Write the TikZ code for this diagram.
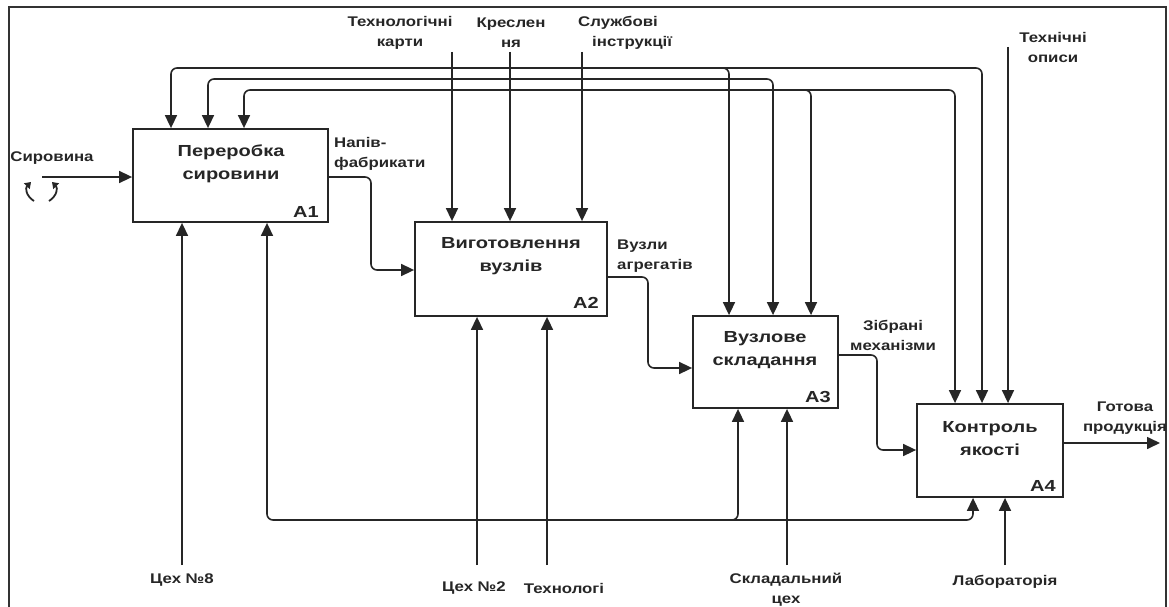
\documentclass[tikz,border=0pt]{standalone}
\usepackage{fontspec}
\setmainfont{Liberation Sans}
\newfontfamily\lblfont{Liberation Sans}[FakeStretch=1.2]
\newfontfamily\boxfont{Liberation Sans}[FakeStretch=1.25]
\usetikzlibrary{arrows.meta,calc}
\tikzset{
  fn/.style={draw=black!85, line width=1.8pt, fill=white},
  con/.style={draw=black!85, line width=1.6pt, rounded corners=6pt},
  tip/.tip={Triangle[length=13pt,width=12pt]},
  arr/.style={con, -tip},
  arrs/.style={con, tip-tip},
  tun/.style={draw=black!85, line width=1.8pt, -{Triangle[length=6pt,width=8pt]}},
  lbl/.style={font=\lblfont\bfseries\fontsize{14}{20}\selectfont, text=black!85, align=center, inner sep=0pt},
  ttl/.style={font=\boxfont\bfseries\fontsize{16}{23}\selectfont, text=black!85, align=center, inner sep=0pt},
  num/.style={font=\boxfont\bfseries\fontsize{16}{19}\selectfont, text=black!85, inner sep=0pt, anchor=base east},
}
\begin{document}
\begin{tikzpicture}[x=1pt,y=-1pt]
\useasboundingbox (0,0) rectangle (1169,607);
\fill[white] (0,0) rectangle (1169,607);
% outer frame
\draw[draw=black!80, line width=1.6pt] (9,7) rectangle (1166,625);

% function boxes
\node[fn, minimum width=195pt, minimum height=93pt] (A1) at (230.5,175.5) {};
\node[fn, minimum width=192pt, minimum height=94pt] (A2) at (511,269) {};
\node[fn, minimum width=145pt, minimum height=92pt] (A3) at (765.5,362) {};
\node[fn, minimum width=146pt, minimum height=93pt] (A4) at (990,450.5) {};

\node[ttl] (A1t) at (231,164) {Переробка\\сировини};
\node[ttl] (A2t) at (511,256) {Виготовлення\\вузлів};
\node[ttl] (A3t) at (765,350) {Вузлове\\складання};
\node[ttl] (A4t) at (990,439) {Контроль\\якості};
\node[num] (A1n) at ($(A1.south east)+(-10,-5)$) {A1};
\node[num] (A2n) at ($(A2.south east)+(-9,-8)$) {A2};
\node[num] (A3n) at ($(A3.south east)+(-8,-6)$) {A3};
\node[num] (A4n) at ($(A4.south east)+(-8,-6)$) {A4};

% controls from above
\coordinate (c1) at (452,52);
\coordinate (c2) at (510,52);
\coordinate (c3) at (582,52);
\coordinate (c4) at (1008,47);
\draw[arr] (c1) -- (c1 |- A2.north);
\draw[arr] (c2) -- (c2 |- A2.north);
\draw[arr] (c3) -- (c3 |- A2.north);
\draw[arr] (c4) -- (c4 |- A4.north);

% feedback lines over the top
\coordinate (p1) at (171,68);
\coordinate (p2) at (208,79);
\coordinate (p3) at (244,90);
\coordinate (q1) at (729,68);
\coordinate (q2) at (773,79);
\coordinate (q3) at (811,90);
\coordinate (r1) at (982,68);
\coordinate (r3) at (955,90);
\draw[arrs] (p1 |- A1.north) -- (p1) -- (r1) -- (r1 |- A4.north);
\draw[arr] ($(q1)+(-20,0)$) -- (q1) -- (q1 |- A3.north);
\draw[arrs] (p2 |- A1.north) -- (p2) -- (q2) -- (q2 |- A3.north);
\draw[arrs] (p3 |- A1.north) -- (p3) -- (r3) -- (r3 |- A4.north);
\draw[arr] ($(q3)+(-20,0)$) -- (q3) -- (q3 |- A3.north);

% feedback line along the bottom
\coordinate (b1) at (267,520);
\coordinate (b2) at (738,520);
\coordinate (b3) at (973,520);
\draw[arrs] (b1 |- A1.south) -- (b1) -- (b3) -- (b3 |- A4.south);
\draw[arr] ($(b2)+(-20,0)$) -- (b2) -- (b2 |- A3.south);

% input
\coordinate (in1) at (42,177);
\draw[arr] (in1) -- (in1 -| A1.west);
% tunnel marks at the input end
\draw[tun] (34,201) .. controls (26,196) and (25,188) .. (31,182);
\draw[tun] (49,201) .. controls (57,196) and (58,188) .. (52,182);

% outputs between functions
\coordinate (o1) at (371,177);
\coordinate (o1b) at (371,270);
\draw[arr] (o1 -| A1.east) -- (o1) -- (o1b) -- (o1b -| A2.west);
\coordinate (o2) at (648,277);
\coordinate (o2b) at (648,368);
\draw[arr] (o2 -| A2.east) -- (o2) -- (o2b) -- (o2b -| A3.west);
\coordinate (o3) at (877,355);
\coordinate (o3b) at (877,450);
\draw[arr] (o3 -| A3.east) -- (o3) -- (o3b) -- (o3b -| A4.west);
\coordinate (out) at (1160,443);
\draw[arr] (out -| A4.east) -- (out);

% mechanisms from below
\coordinate (m1) at (182,565);
\coordinate (m2) at (477,565);
\coordinate (m3) at (547,565);
\coordinate (m4) at (787,565);
\coordinate (m5) at (1005,565);
\draw[arr] (m1) -- (m1 |- A1.south);
\draw[arr] (m2) -- (m2 |- A2.south);
\draw[arr] (m3) -- (m3 |- A2.south);
\draw[arr] (m4) -- (m4 |- A3.south);
\draw[arr] (m5) -- (m5 |- A4.south);

% arrow labels
\node[lbl] (l1) at (52,158) {Сировина};
\node[lbl] (l2) at (400,33) {Технологічні\\карти};
\node[lbl] (l3) at (511,33) {Креслен\\ня};
\node[lbl, align=left, anchor=west] (l4) at (578,33) {Службові\\\hspace*{14pt}інструкції};
\node[lbl] (l5) at (1053,47) {Технічні\\описи};
\node[lbl, align=left, anchor=west] (l6) at (334,154) {Напів-\\фабрикати};
\node[lbl, align=left, anchor=west] (l7) at (617,256) {Вузли\\агрегатів};
\node[lbl] (l8) at (893,335) {Зібрані\\механізми};
\node[lbl] (l9) at (1125,418) {Готова\\продукція};
\node[lbl] (l10) at (182,580) {Цех №8};
\node[lbl] (l11) at (474,588) {Цех №2};
\node[lbl] (l12) at (564,588) {Технологі};
\node[lbl] (l13) at (786,590) {Складальний\\цех};
\node[lbl] (l14) at (1005,582) {Лабораторія};
\end{tikzpicture}
\end{document}
